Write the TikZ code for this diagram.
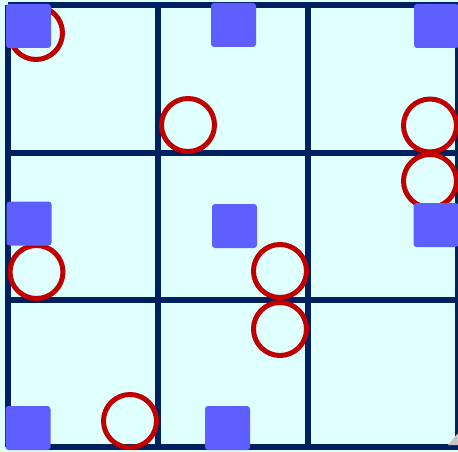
\documentclass[tikz,border=0pt]{standalone}
\begin{document}
\begin{tikzpicture}[x=1pt,y=-1pt]
\definecolor{bgc}{HTML}{E0FFFF}
\definecolor{gridc}{HTML}{002060}
\definecolor{sqc}{HTML}{5F5FFF}
\definecolor{circc}{HTML}{C00000}
\tikzset{
  gridline/.style={draw=gridc,line width=5.5pt},
  sqbox/.style={fill=sqc,draw=none,rounded corners=3pt,minimum width=45pt,minimum height=44pt,inner sep=0pt},
  ring/.style={circle,draw=circc,line width=5pt,minimum size=53pt,inner sep=0pt}
}
\useasboundingbox (0,0) rectangle (458,452);
\fill[bgc] (0,0) rectangle (458,452);
% grid
\foreach \x in {8,158,308,458} \draw[gridline] (\x,5) -- (\x,447);
\foreach \y in {5,153,300,447} \draw[gridline] (8,\y) -- (458,\y);
% corner handle
\fill[gray!45] (458,433) -- (458,445) -- (448,445) -- cycle;
% circles
\node[ring] (c1) at (36,33) {};
\node[ring] (c2) at (188,125) {};
\node[ring] (c3) at (430,125.5) {};
\node[ring] (c4) at (430,181) {};
\node[ring] (c5) at (36.5,272) {};
\node[ring] (c6) at (280,271) {};
\node[ring] (c7) at (280,329) {};
\node[ring] (c8) at (130,421) {};
% squares
\node[sqbox] (s1) at (28.5,26) {};
\node[sqbox] (s2) at (233.5,25) {};
\node[sqbox] (s3) at (436.5,26) {};
\node[sqbox] (s4) at (29,223.5) {};
\node[sqbox] (s5) at (234.5,226) {};
\node[sqbox] (s6) at (436,225) {};
\node[sqbox] (s7) at (28,428) {};
\node[sqbox] (s8) at (227.5,428) {};
\end{tikzpicture}
\end{document}
